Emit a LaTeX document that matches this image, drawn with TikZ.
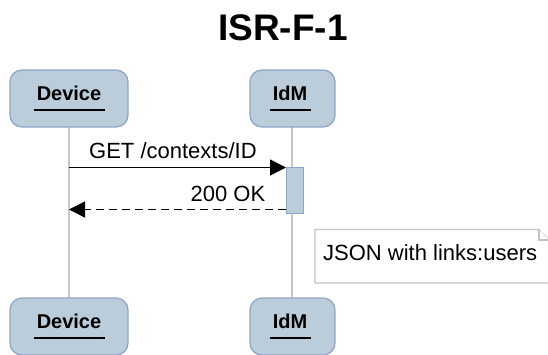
\documentclass[tikz,border=0pt]{standalone}
\usepackage{fontspec}
\setmainfont{Liberation Sans}
\usetikzlibrary{arrows.meta,calc}
\definecolor{partfill}{RGB}{187,204,218}
\definecolor{partdraw}{RGB}{145,165,200}
\definecolor{lifegray}{RGB}{200,200,200}
\definecolor{notegray}{RGB}{195,195,195}
\tikzset{
  partbox/.style={draw=partdraw, fill=partfill, line width=1.3pt, rounded corners=12pt},
  partlabel/.style={inner sep=0pt, anchor=base, font=\fontsize{20}{24}\selectfont\bfseries},
  msglabel/.style={inner sep=0pt, font=\fontsize{22}{26}\selectfont},
  lifeline/.style={draw=lifegray, line width=1.2pt},
  actbox/.style={draw=partdraw, fill=partfill, line width=1.1pt},
  msg/.style={line width=1.5pt, -{Triangle[length=16pt,width=16pt]}},
  notebox/.style={draw=notegray, fill=white, line width=1.2pt},
  uline/.style={line width=1.8pt}
}
\begin{document}
\begin{tikzpicture}[x=1pt,y=-1pt]
\useasboundingbox (0,0) rectangle (548,354);
% title
\node[inner sep=0pt, anchor=base, font=\fontsize{37}{44}\selectfont\bfseries] (title) at (283,40) {ISR-F-1};
% lifelines
\coordinate (devtop) at (69,127);
\coordinate (devbot) at (69,298);
\coordinate (idmtop) at (292,127);
\coordinate (idmbot) at (292,298);
\draw[lifeline] (devtop) -- (devbot);
\draw[lifeline] (idmtop) -- (idmbot);
% participant boxes top
\draw[partbox] (10,70) rectangle (128,127);
\draw[partbox] (250,70) rectangle (335,127);
% participant boxes bottom
\draw[partbox] (10,298) rectangle (128,355);
\draw[partbox] (250,298) rectangle (335,355);
% labels
\node[partlabel] (devT) at (69,100.5) {Device};
\node[partlabel] (idmT) at (290,100.5) {IdM};
\node[partlabel] (devB) at (69,328.5) {Device};
\node[partlabel] (idmB) at (290,328.5) {IdM};
\foreach \n in {devT,idmT,devB,idmB}{
  \draw[uline] ($(\n.base west)+(-3,9.5)$) -- ($(\n.base east)+(4,9.5)$);
}
% activation
\node[actbox, minimum width=16.5pt, minimum height=46pt, inner sep=0pt, anchor=north west] (act) at (286,166.5) {};
% messages
\coordinate (getS) at (69,167.5);
\coordinate (retE) at (69,209.5);
\draw[msg] (getS) -- (getS -| act.west);
\node[msglabel, anchor=base west] (getL) at (89,158) {GET /contexts/ID};
\draw[msg, dash pattern=on 8.5pt off 4.5pt] (retE -| act.west) -- (retE);
\node[msglabel, anchor=base east] (okL) at (265.5,201.5) {200 OK};
% note
\draw[notebox] (315,229.5) -- (539,229.5) -- (549,240) -- (549,283) -- (315,283) -- cycle;
\draw[notebox] (539,229.5) -- (539,240) -- (549,240);
\node[msglabel, anchor=base west] (noteL) at (323,260) {JSON with links:users};
\end{tikzpicture}
\end{document}
